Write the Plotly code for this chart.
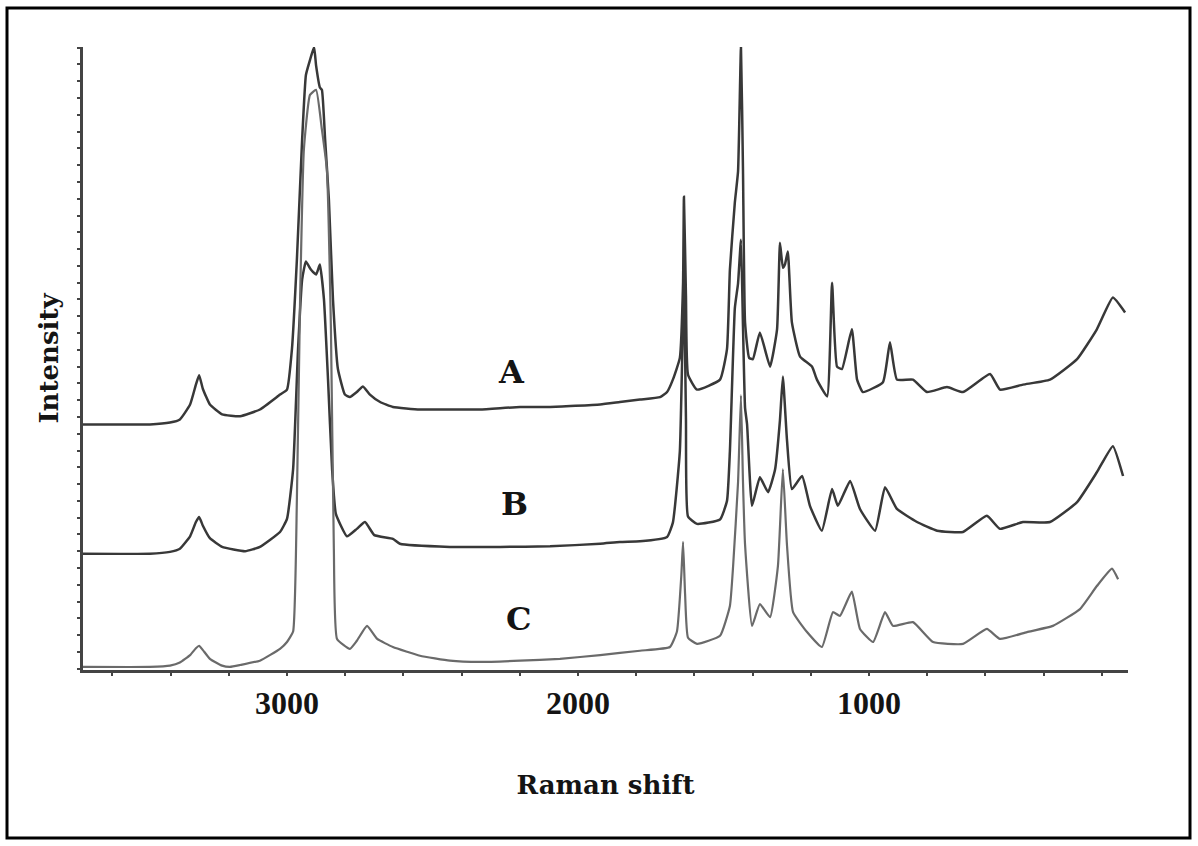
import plotly.graph_objects as go

# ---- data (Raman shift in cm-1, intensity in arbitrary units, stacked) ----
A_shift = [3701, 3574, 3471, 3402, 3368, 3333, 3313, 3302, 3289, 3265, 3223, 3161, 3093, 3024, 3000,
           2983, 2966, 2948, 2935, 2921, 2907, 2900, 2887, 2880, 2869, 2856, 2842, 2825, 2801, 2784,
           2760, 2739, 2715, 2680, 2636, 2543, 2440, 2337, 2199, 2096, 1924, 1856, 1787, 1718, 1694,
           1674, 1650, 1639, 1636, 1629, 1622, 1591, 1512, 1488, 1478, 1461, 1450, 1440, 1433, 1426,
           1412, 1399, 1375, 1340, 1316, 1306, 1296, 1289, 1279, 1265, 1237, 1196, 1179, 1144, 1127,
           1110, 1093, 1059, 1041, 1021, 952, 928, 904, 849, 801, 732, 677, 584, 550, 471,
           378, 285, 217, 162, 120]
A_int = [39.3, 39.3, 39.3, 39.6, 40.1, 42.5, 45.7, 47.2, 45.0, 42.5, 40.9, 40.6, 41.7, 44.1, 44.9,
         51.4, 65.8, 85.1, 95.5, 97.9, 100, 97.0, 93.5, 93.1, 85.1, 75.4, 59.4, 48.2, 44.1, 43.7,
         44.5, 45.4, 44.1, 42.9, 42.1, 41.7, 41.7, 41.7, 42.1, 42.1, 42.5, 42.9, 43.3, 43.7, 44.5,
         46.5, 50.0, 62.0, 75.9, 60.0, 47.3, 44.9, 46.5, 51.4, 64.2, 75.0, 80.0, 100, 80.0, 55.7,
         50.0, 49.8, 54.1, 48.6, 54.6, 68.5, 64.5, 65.0, 67.1, 55.7, 50.2, 48.6, 46.5, 43.8, 62.1,
         48.6, 48.2, 54.6, 46.5, 44.5, 46.1, 52.5, 46.5, 46.5, 44.5, 45.3, 44.5, 47.4, 44.9, 45.7,
         46.5, 49.8, 54.6, 59.7, 57.3]

B_shift = [3701, 3471, 3402, 3368, 3333, 3313, 3302, 3289, 3265, 3223, 3144, 3093, 3024, 3000, 2979,
           2962, 2948, 2935, 2918, 2900, 2887, 2873, 2859, 2845, 2832, 2794, 2760, 2732, 2700, 2636,
           2612, 2440, 2268, 2096, 1924, 1856, 1787, 1694, 1674, 1650, 1636, 1629, 1622, 1591, 1512,
           1488, 1478, 1461, 1450, 1440, 1433, 1426, 1419, 1402, 1375, 1347, 1323, 1306, 1296, 1282,
           1265, 1230, 1203, 1162, 1127, 1107, 1065, 1031, 979, 945, 904, 835, 766, 677, 595,
           550, 471, 378, 285, 217, 162, 127]
B_int = [18.5, 18.5, 18.8, 19.3, 21.3, 23.6, 24.4, 23.0, 21.0, 19.6, 18.9, 19.6, 22.0, 24.1, 32.1,
         51.4, 62.6, 65.5, 64.2, 63.4, 65.0, 59.4, 46.5, 32.1, 24.9, 21.3, 22.5, 23.6, 21.5, 20.9,
         20.1, 19.6, 19.6, 19.7, 20.1, 20.4, 20.5, 21.2, 23.5, 35.0, 62.6, 40.0, 24.5, 23.3, 24.0,
         27.0, 35.0, 58.0, 62.0, 69.0, 55.0, 42.0, 39.3, 26.2, 30.8, 28.4, 32.0, 40.0, 47.0, 36.9,
         28.9, 31.0, 26.2, 22.2, 28.9, 26.2, 30.2, 25.7, 22.2, 29.2, 25.7, 23.6, 22.2, 22.0, 24.6,
         22.5, 23.6, 23.6, 26.8, 31.6, 35.8, 31.0]

C_shift = [3701, 3471, 3402, 3368, 3333, 3313, 3302, 3289, 3265, 3223, 3196, 3161, 3093, 3024, 3000,
           2979, 2966, 2955, 2942, 2921, 2900, 2880, 2863, 2849, 2839, 2828, 2784, 2760, 2725, 2690,
           2636, 2543, 2440, 2337, 2199, 2062, 1924, 1787, 1684, 1660, 1645, 1639, 1632, 1622, 1591,
           1512, 1478, 1467, 1450, 1440, 1433, 1426, 1402, 1375, 1340, 1313, 1296, 1282, 1261, 1213,
           1162, 1124, 1100, 1059, 1031, 986, 945, 918, 849, 780, 677, 595, 550, 457, 368,
           275, 217, 165, 144]
C_int = [0.3, 0.3, 0.5, 1.0, 2.2, 3.3, 3.7, 3.0, 1.6, 0.5, 0.3, 0.6, 1.3, 3.2, 4.3,
         6.0, 27.3, 59.4, 83.5, 92.3, 93.1, 86.7, 80.3, 54.6, 19.3, 4.8, 3.2, 4.5, 6.9, 4.8,
         3.5, 2.1, 1.3, 1.1, 1.3, 1.6, 2.2, 2.9, 3.5, 6.0, 15.0, 20.4, 12.0, 5.0, 4.0,
         5.3, 10.1, 16.5, 30.0, 44.0, 30.0, 20.0, 6.9, 10.4, 8.3, 16.5, 32.1, 20.0, 9.1, 5.9,
         3.5, 9.1, 8.5, 12.4, 6.4, 4.3, 9.1, 6.9, 7.5, 4.3, 4.0, 6.4, 4.8, 5.9, 6.9,
         9.6, 13.3, 16.1, 14.4]

series_names = ["A", "B", "C"]
label_shift = [2227, 2217, 2206]
label_int = [47.8, 26.5, 8.0]

x_tickvals = [3000, 2000, 1000]
x_ticktext = ["3000", "2000", "1000"]

# ---- figure ----
W, H = 1198, 846
ML, MR, MT, MB = 83, 70, 47, 176

fig = go.Figure()
colors = ["#383838", "#383838", "#6a6a6a"]
widths = [2.5, 2.5, 2.2]
for name, xs, ys, c, w in zip(series_names, [A_shift, B_shift, C_shift], [A_int, B_int, C_int], colors, widths):
    fig.add_trace(go.Scatter(x=xs, y=ys, mode="lines", name=name,
                             line=dict(color=c, width=w, shape="spline", smoothing=0.4),
                             showlegend=False, hoverinfo="skip"))

for name, lx, ly in zip(series_names, label_shift, label_int):
    fig.add_annotation(x=lx, y=ly, text=name, showarrow=False,
                       font=dict(family="DejaVu Serif", size=32, color="#141414", weight="bold"))

fig.update_layout(
    width=W, height=H,
    margin=dict(l=ML, r=MR, t=MT, b=MB),
    paper_bgcolor="white", plot_bgcolor="white",
    showlegend=False,
)

fig.update_xaxes(
    range=[3701, 110],
    showline=True, linecolor="#444444", linewidth=3, mirror=False,
    showgrid=False, zeroline=False,
    tickmode="array", tickvals=x_tickvals, ticktext=x_ticktext,
    ticks="outside", ticklen=3, tickwidth=2, tickcolor="#444444",
    ticklabelstandoff=0,
    tickfont=dict(family="Liberation Serif", size=32, color="#141414", weight="bold"),
    minor=dict(tickmode="linear", tick0=0, dtick=200, ticks="outside", ticklen=3,
               tickwidth=2, tickcolor="#444444", showgrid=False),
    title=dict(text="Raman shift", standoff=56,
               font=dict(family="DejaVu Serif", size=26, color="#141414", weight="bold")),
)

fig.update_yaxes(
    range=[-0.2, 100],
    showline=True, linecolor="#444444", linewidth=2.5,
    showgrid=False, zeroline=False,
    showticklabels=False,
    tickmode="linear", tick0=0, dtick=2.7,
    ticks="outside", ticklen=3, tickwidth=2, tickcolor="#444444",
    title=dict(text="Intensity", standoff=12,
               font=dict(family="DejaVu Serif", size=26, color="#141414", weight="bold")),
)

# outer black frame of the figure
pw, ph = W - ML - MR, H - MT - MB
fx0, fx1, fy0, fy1 = 7, 1190, 8, 838
fig.add_shape(type="rect", xref="paper", yref="paper",
              x0=(fx0 - ML) / pw, x1=(fx1 - ML) / pw,
              y0=(H - MB - fy1) / ph, y1=(H - MB - fy0) / ph,
              line=dict(color="black", width=3), layer="below")

fig.write_html("out.html")
